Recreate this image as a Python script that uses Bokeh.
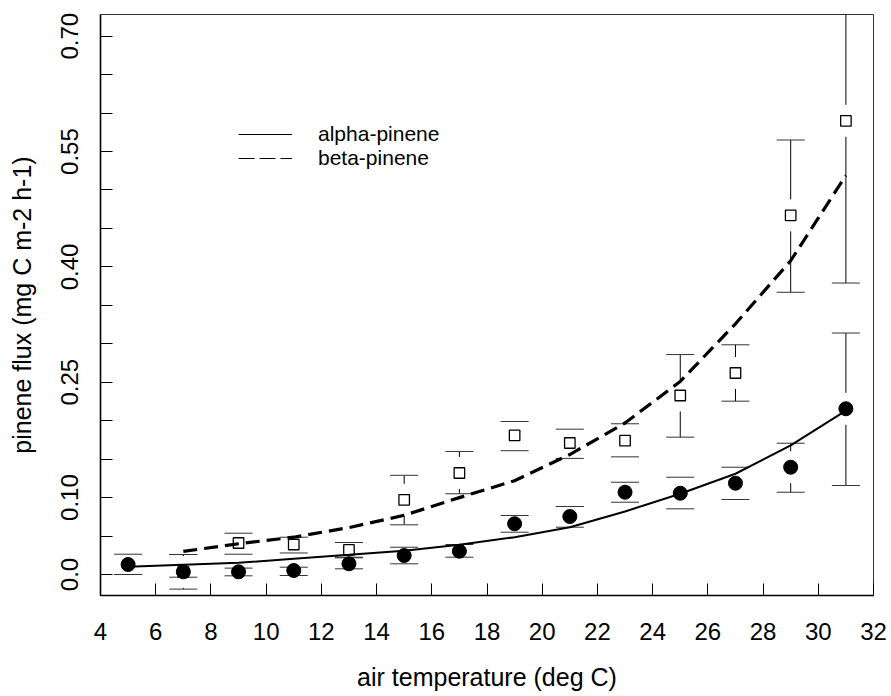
from bokeh.plotting import figure
from bokeh.models import FixedTicker, Legend, LegendItem, ColumnDataSource, Range1d
from bokeh.embed import file_html
from bokeh.resources import INLINE

# Monoterpene emission vs. air temperature: means with error bars and exponential fits
temp_alpha = [5, 7, 9, 11, 13, 15, 17, 19, 21, 23, 25, 27, 29, 31]
alpha_mean = [0.013, 0.0035, 0.0035, 0.0052, 0.0139, 0.0247, 0.0303, 0.066,
              0.0754, 0.107, 0.1057, 0.1187, 0.1395, 0.2155]
alpha_lower = [0.0, -0.0035, -0.0017, -0.0013, 0.0074, 0.0139, 0.0225, 0.055,
               0.0615, 0.094, 0.0854, 0.0975, 0.107, 0.1157]
alpha_upper = [0.0264, 0.026, 0.0083, 0.0095, 0.0225, 0.0355, 0.039, 0.0767,
               0.0884, 0.120, 0.1265, 0.1395, 0.1707, 0.314]
alpha_fit = [0.010, 0.0126, 0.0152, 0.0204, 0.0256, 0.031, 0.0386, 0.0485,
             0.0615, 0.082, 0.105, 0.131, 0.168, 0.213]

temp_beta = [7, 9, 11, 13, 15, 17, 19, 21, 23, 25, 27, 29, 31]
beta_mean = [0.0035, 0.041, 0.039, 0.032, 0.0971, 0.132, 0.181, 0.171, 0.174,
             0.2328, 0.262, 0.467, 0.590]
beta_lower = [-0.019, 0.0264, 0.028, 0.0217, 0.0646, 0.105, 0.161, 0.151, 0.153,
              0.1786, 0.2254, 0.367, 0.379]
beta_upper = [0.026, 0.0537, 0.0485, 0.0416, 0.129, 0.160, 0.199, 0.189, 0.196,
              0.286, 0.2987, 0.565, 0.801]
beta_fit = [0.030, 0.040, 0.0485, 0.061, 0.077, 0.100, 0.122, 0.156, 0.197,
            0.251, 0.326, 0.408, 0.519]

x_ticks = list(range(4, 33, 2))
y_tick_labels = {0.0: "0.0", 0.10: "0.10", 0.25: "0.25", 0.40: "0.40",
                 0.55: "0.55", 0.70: "0.70"}
y_minor = [0.05, 0.15, 0.20, 0.30, 0.35, 0.45, 0.50, 0.60, 0.65]

FONT = "Liberation Sans"
X0, X1 = 4, 32
Y0, Y1 = -0.0273, 0.7282
FRAME_W, FRAME_H = 773, 581

p = figure(frame_width=FRAME_W, frame_height=FRAME_H,
           min_border_left=100, min_border_right=18,
           min_border_top=14, min_border_bottom=101,
           x_range=Range1d(X0, X1), y_range=Range1d(Y0, Y1),
           output_backend="svg", toolbar_location=None,
           background_fill_color="white", border_fill_color="white")
p.grid.visible = False
p.outline_line_color = "#333333"
p.outline_line_width = 1

# axes: ticks pointing inwards
for ax in (p.xaxis[0], p.yaxis[0]):
    ax.axis_line_color = "black"
    ax.axis_line_width = 1.6
    ax.major_tick_in = 12
    ax.major_tick_out = 0
    ax.minor_tick_in = 12
    ax.minor_tick_out = 0
    ax.major_tick_line_color = "black"
    ax.minor_tick_line_color = "black"
    ax.major_tick_line_width = 1
    ax.minor_tick_line_width = 1
    ax.major_label_text_font = FONT
    ax.major_label_text_font_size = "24px"
    ax.major_label_text_color = "black"
    ax.axis_label_text_font = FONT
    ax.axis_label_text_font_size = "25px"
    ax.axis_label_text_font_style = "normal"
    ax.axis_label_text_color = "black"

p.xaxis.ticker = FixedTicker(ticks=x_ticks)
p.xaxis.major_label_standoff = 27
p.xaxis.axis_label = "air temperature (deg C)"
p.xaxis.axis_label_standoff = 20

p.yaxis.ticker = FixedTicker(ticks=list(y_tick_labels.keys()), minor_ticks=y_minor)
p.yaxis.major_label_overrides = y_tick_labels
p.yaxis.major_label_orientation = "vertical"
p.yaxis.major_label_standoff = 22
p.yaxis.axis_label = "pinene flux (mg C m-2 h-1)"
p.yaxis.axis_label_standoff = 23

# vertical error bars leave a gap around each symbol
gap = 16 * (Y1 - Y0) / FRAME_H


def bar_segments(xs, mean, lower, upper):
    x0, y0, y1 = [], [], []
    for x, m, lo, hi in zip(xs, mean, lower, upper):
        if hi > m + gap:
            x0.append(x); y0.append(m + gap); y1.append(hi)
        if lo < m - gap:
            x0.append(x); y0.append(lo); y1.append(m - gap)
    return dict(x=x0, y0=y0, y1=y1)


for xs, m, lo, hi in ((temp_alpha, alpha_mean, alpha_lower, alpha_upper),
                      (temp_beta, beta_mean, beta_lower, beta_upper)):
    seg = ColumnDataSource(bar_segments(xs, m, lo, hi))
    p.segment(x0="x", y0="y0", x1="x", y1="y1", source=seg,
              line_color="black", line_width=1)
    p.scatter(xs + xs, lo + hi, marker="dash", size=28,
              line_color="#333333", line_width=1)

# exponential fits
p.line(temp_alpha, alpha_fit, line_color="black", line_width=2)
p.line(temp_beta, beta_fit, line_color="black", line_width=3.2, line_dash="14 7")

# symbols
p.scatter(temp_alpha, alpha_mean, marker="circle", size=14,
          fill_color="black", line_color="black")
p.scatter(temp_beta, beta_mean, marker="square", size=10.5,
          fill_alpha=0, line_color="black", line_width=1.3)

# legend keys: thin-line renderers whose own points lie outside the frame
off = [X0 - 10, X0 - 9]
leg_a = p.line(off, [0, 0], line_color="black", line_width=1)
leg_b = p.line(off, [0, 0], line_color="black", line_width=1, line_dash="16 5")
legend = Legend(items=[LegendItem(label="alpha-pinene", renderers=[leg_a]),
                       LegendItem(label="beta-pinene", renderers=[leg_b])],
                location=(138, 425), padding=0, margin=0, spacing=0,
                glyph_width=54, glyph_height=24, label_height=24,
                label_standoff=26, border_line_alpha=0,
                background_fill_alpha=0,
                label_text_font=FONT, label_text_font_size="21px",
                label_text_color="black")
p.add_layout(legend)

open("out.html", "w").write(file_html(p, INLINE))
